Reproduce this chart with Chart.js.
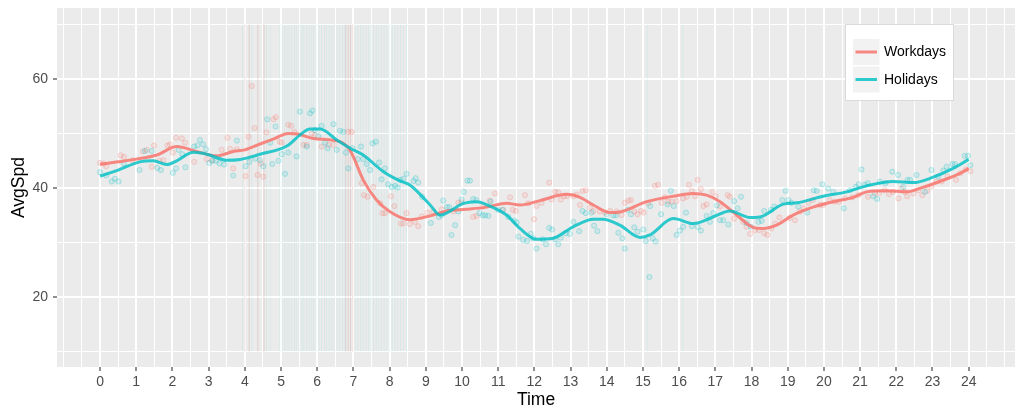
<!DOCTYPE html>
<html>
<head>
<meta charset="utf-8">
<title>AvgSpd by Time</title>
<script src="https://cdn.jsdelivr.net/npm/chart.js@4.4.1/dist/chart.umd.min.js"></script>
<style>
  html, body { margin: 0; padding: 0; background: #ffffff; }
  #wrap { width: 1024px; height: 419px; }
</style>
</head>
<body>
<div id="wrap"><canvas id="chart" width="1024" height="419"></canvas></div>
<script>
// ---- data ----
const seriesNames = ['Workdays', 'Holidays'];
const xTickLabels = [0, 1, 2, 3, 4, 5, 6, 7, 8, 9, 10, 11, 12, 13, 14, 15, 16, 17, 18, 19, 20, 21, 22, 23, 24];
const xGridValues = [-1, -0.5, 0, 0.5, 1, 1.5, 2, 2.5, 3, 3.5, 4, 4.5, 5, 5.5, 6, 6.5, 7, 7.5, 8, 8.5, 9, 9.5, 10, 10.5, 11, 11.5,
  12, 12.5, 13, 13.5, 14, 14.5, 15, 15.5, 16, 16.5, 17, 17.5, 18, 18.5, 19, 19.5, 20, 20.5, 21, 21.5, 22, 22.5, 23, 23.5, 24, 24.5, 25];
const yTickLabels = [20, 40, 60];
const yGridValues = [10, 20, 30, 40, 50, 60, 70];

// smoothed lines [time, AvgSpd]
const workdaysLine = [[0, 44.35], [0.5, 44.8], [1.0, 45.3], [1.57, 46.05], [2.12, 47.6], [2.67, 46.7], [3.22, 45.9], [3.68, 46.7],
  [4.0, 47.0], [4.42, 48.07], [4.8, 49.0], [5.2, 50.0], [5.45, 49.9], [5.89, 49.1], [6.63, 48.5], [6.9, 47.0], [7.0, 45.7],
  [7.27, 41.5], [7.64, 37.8], [8.0, 35.7], [8.56, 34.2], [9.12, 34.9], [9.58, 35.8], [10.13, 36.1], [10.68, 36.5], [11.23, 37.2],
  [11.6, 36.9], [12.15, 37.7], [12.89, 38.85], [13.26, 38.3], [13.63, 36.9], [14.09, 35.5], [14.36, 35.6], [15.1, 37.5],
  [15.84, 38.5], [16.39, 39.0], [16.76, 38.7], [17.13, 37.5], [17.59, 35.05], [18.05, 32.8], [18.32, 32.6], [18.69, 33.2],
  [19.15, 35.05], [19.7, 36.5], [20.26, 37.5], [20.81, 38.3], [21.18, 39.3], [21.73, 39.5], [22.28, 39.3], [22.65, 39.95],
  [23.2, 41.2], [23.76, 42.7], [24.0, 43.6]];
const holidaysLine = [[0, 42.2], [0.5, 43.3], [1.1, 44.8], [1.47, 45.0], [1.84, 44.3], [2.12, 45.0], [2.58, 46.55], [2.95, 46.2],
  [3.5, 45.1], [3.87, 45.25], [4.42, 46.2], [5.16, 47.7], [5.52, 49.7], [5.8, 50.8], [6.08, 50.8], [6.54, 48.8], [6.91, 47.3],
  [7.27, 46.05], [7.83, 43.0], [8.29, 41.3], [8.56, 40.55], [9.12, 36.9], [9.39, 35.05], [10.04, 37.2], [10.4, 37.5], [10.77, 36.7],
  [11.23, 35.05], [11.6, 32.6], [12.06, 30.6], [12.52, 30.8], [13.07, 32.9], [13.63, 34.3], [13.9, 34.3], [14.36, 33.2],
  [14.92, 30.95], [15.19, 31.4], [15.84, 34.4], [16.39, 33.5], [16.94, 34.7], [17.4, 35.8], [17.96, 34.6], [18.23, 34.7],
  [18.88, 37.05], [19.25, 37.3], [19.98, 38.5], [20.63, 39.3], [21.18, 40.4], [21.91, 41.2], [22.47, 41.0], [23.02, 42.0],
  [23.57, 43.6], [24.0, 45.25]];

// raw observations [time, AvgSpd]
const workdaysPts = [[0.0, 44.6], [0.1, 44.5], [0.17, 44.0], [0.57, 46.0], [0.66, 45.7], [0.9, 45.1], [1.18, 46.7], [1.29, 47.0],
  [1.43, 43.9], [1.49, 47.8], [1.64, 45.0], [1.75, 45.1], [1.86, 47.8], [1.93, 48.0], [2.01, 46.5], [2.1, 49.2], [2.26, 49.1],
  [2.35, 48.3], [2.6, 44.8], [2.95, 45.3], [3.08, 45.1], [3.36, 47.0], [3.52, 49.2], [3.59, 47.2], [3.68, 43.6], [3.78, 47.1],
  [4.02, 42.2], [4.1, 49.4], [4.19, 58.7], [4.27, 51.0], [4.35, 42.4], [4.44, 44.5], [4.51, 42.1], [4.6, 50.2], [4.79, 52.6],
  [4.86, 53.0], [4.97, 48.5], [5.02, 48.3], [5.2, 51.6], [5.28, 51.4], [5.37, 50.3], [5.62, 47.9], [5.71, 47.9], [5.85, 50.0],
  [5.94, 49.7], [6.12, 47.6], [6.31, 47.9], [6.45, 47.9], [6.86, 50.3], [6.95, 50.3], [7.23, 40.9], [7.29, 38.7], [7.39, 38.4],
  [7.55, 40.2], [7.74, 37.2], [7.8, 35.4], [7.87, 35.4], [8.04, 38.5], [8.13, 36.7], [8.31, 33.5], [8.38, 33.5], [8.47, 35.4],
  [8.56, 33.4], [8.7, 33.8], [8.79, 33.0], [8.89, 34.8], [9.05, 35.5], [9.21, 35.7], [9.44, 36.1], [9.76, 35.7], [9.9, 37.3],
  [9.99, 37.4], [10.31, 34.7], [10.4, 34.9], [10.57, 36.6], [10.77, 37.7], [10.91, 39.0], [11.14, 36.0], [11.33, 38.3],
  [11.4, 36.0], [11.49, 35.8], [11.74, 38.7], [11.83, 37.2], [11.99, 34.3], [12.06, 36.7], [12.2, 37.3], [12.41, 41.0],
  [12.48, 37.9], [12.57, 39.3], [12.66, 39.2], [12.73, 37.9], [12.82, 38.5], [12.9, 38.5], [13.08, 38.5], [13.17, 38.8],
  [13.26, 36.9], [13.33, 39.5], [13.42, 39.6], [13.54, 36.4], [13.63, 35.8], [13.81, 35.7], [13.95, 35.5], [14.09, 35.8],
  [14.27, 35.7], [14.41, 35.05], [14.5, 37.3], [14.6, 37.7], [14.67, 37.8], [14.76, 35.7], [14.85, 35.2], [14.95, 35.8],
  [15.02, 35.5], [15.15, 37.2], [15.33, 40.4], [15.42, 40.6], [15.52, 37.3], [15.61, 38.3], [15.7, 37.5], [15.79, 37.5],
  [15.93, 37.6], [16.11, 38.1], [16.21, 38.4], [16.27, 40.6], [16.35, 39.5], [16.44, 38.5], [16.51, 41.5], [16.6, 39.8],
  [16.67, 36.7], [16.76, 37.0], [16.92, 39.3], [17.01, 38.5], [17.13, 36.6], [17.34, 38.7], [17.4, 38.4], [17.52, 34.4],
  [17.77, 33.8], [17.86, 32.9], [17.96, 31.6], [18.09, 32.3], [18.21, 32.3], [18.35, 31.7], [18.44, 31.4], [18.55, 32.6],
  [18.65, 33.5], [18.77, 34.6], [19.05, 34.5], [19.2, 34.1], [19.34, 35.7], [19.45, 36.3], [19.57, 37.3], [19.69, 37.8],
  [19.89, 36.9], [19.98, 36.9], [20.16, 37.8], [20.3, 37.5], [20.42, 37.5], [20.58, 38.1], [20.79, 38.3], [20.95, 38.7],
  [21.22, 38.4], [21.41, 39.0], [21.53, 39.1], [21.68, 39.6], [21.8, 38.9], [21.91, 39.3], [22.06, 38.1], [22.14, 39.9],
  [22.24, 39.3], [22.3, 38.5], [22.47, 39.0], [22.61, 39.6], [22.72, 38.7], [22.85, 39.5], [22.97, 40.3], [23.11, 41.2],
  [23.25, 41.2], [23.41, 42.1], [23.65, 41.5], [23.77, 42.7], [23.92, 43.4], [24.05, 43.1]];
const holidaysPts = [[0.0, 42.9], [0.17, 42.3], [0.32, 41.2], [0.41, 41.7], [0.51, 41.2], [0.66, 44.5], [1.09, 43.3], [1.24, 46.8],
  [1.43, 46.8], [1.58, 43.7], [1.68, 43.3], [2.01, 42.8], [2.1, 43.6], [2.17, 47.0], [2.27, 46.2], [2.36, 43.8], [2.6, 47.6],
  [2.69, 47.8], [2.76, 48.8], [2.85, 48.0], [2.93, 47.1], [3.02, 44.6], [3.11, 45.0], [3.2, 45.0], [3.3, 44.5], [3.43, 44.3],
  [3.68, 42.3], [3.78, 48.7], [4.02, 44.0], [4.13, 44.8], [4.29, 45.4], [4.42, 45.1], [4.51, 44.0], [4.62, 52.6], [4.7, 48.3],
  [4.76, 44.4], [4.85, 51.3], [4.93, 45.0], [5.02, 46.2], [5.11, 42.6], [5.2, 46.5], [5.43, 45.8], [5.52, 54.0], [5.71, 47.6],
  [5.8, 53.7], [5.87, 54.2], [5.94, 50.6], [6.03, 49.5], [6.12, 51.4], [6.22, 48.3], [6.29, 47.3], [6.45, 51.7], [6.54, 47.0],
  [6.63, 50.5], [6.72, 50.3], [6.79, 46.5], [6.86, 43.6], [6.97, 47.3], [7.12, 45.3], [7.21, 47.6], [7.27, 45.3], [7.37, 44.4],
  [7.46, 43.3], [7.53, 48.2], [7.62, 48.5], [7.71, 44.7], [7.78, 41.6], [7.87, 43.6], [7.96, 40.7], [8.06, 40.2], [8.15, 40.4],
  [8.22, 40.1], [8.29, 41.5], [8.38, 41.7], [8.47, 42.6], [8.66, 41.3], [8.72, 41.8], [8.79, 41.0], [8.9, 38.4], [9.14, 33.6],
  [9.36, 34.7], [9.44, 35.05], [9.48, 37.7], [9.58, 36.5], [9.65, 36.5], [9.71, 31.4], [9.81, 33.2], [9.9, 35.7], [9.99, 37.9],
  [10.05, 39.3], [10.15, 41.35], [10.22, 41.35], [10.31, 38.0], [10.39, 37.8], [10.48, 35.4], [10.57, 35.0], [10.64, 35.0],
  [10.73, 34.9], [10.79, 37.5], [11.0, 36.0], [11.12, 36.0], [11.28, 34.7], [11.44, 34.0], [11.51, 33.7], [11.56, 31.1],
  [11.69, 30.5], [11.8, 30.3], [11.9, 31.6], [11.97, 30.8], [12.06, 28.9], [12.23, 30.6], [12.32, 29.7], [12.41, 32.7],
  [12.49, 32.4], [12.57, 30.6], [12.66, 29.7], [12.73, 30.9], [12.87, 31.7], [12.98, 31.6], [13.08, 33.8], [13.24, 32.1],
  [13.33, 35.8], [13.42, 35.4], [13.58, 35.5], [13.65, 33.1], [13.74, 32.1], [14.0, 35.2], [14.18, 35.0], [14.25, 35.0],
  [14.32, 31.8], [14.43, 30.8], [14.5, 28.9], [14.58, 36.0], [14.67, 35.2], [14.76, 32.8], [14.85, 32.0], [15.01, 32.4],
  [15.08, 30.3], [15.18, 23.7], [15.2, 36.7], [15.27, 30.8], [15.35, 30.2], [15.5, 35.2], [15.68, 37.0], [15.77, 39.5],
  [15.85, 36.7], [15.93, 31.4], [16.02, 32.2], [16.11, 32.9], [16.19, 35.5], [16.35, 33.0], [16.51, 32.9], [16.6, 32.2],
  [16.76, 34.9], [16.85, 33.8], [16.94, 35.4], [17.04, 36.8], [17.13, 34.1], [17.22, 34.1], [17.36, 33.3], [17.52, 37.6],
  [17.62, 36.3], [17.71, 38.4], [17.86, 33.6], [17.98, 32.9], [18.19, 33.8], [18.28, 34.0], [18.35, 35.8], [18.54, 36.0],
  [18.63, 36.6], [18.85, 37.8], [18.94, 39.5], [19.02, 37.8], [19.1, 37.3], [19.29, 36.6], [19.54, 35.5], [19.72, 39.6],
  [19.8, 39.5], [19.96, 40.7], [20.12, 39.9], [20.26, 39.3], [20.55, 36.3], [20.72, 39.6], [20.88, 40.2], [20.96, 40.7],
  [21.04, 43.4], [21.13, 40.6], [21.21, 40.9], [21.36, 38.5], [21.47, 38.0], [21.55, 41.2], [21.7, 40.9], [21.89, 43.0],
  [22.05, 42.4], [22.19, 40.2], [22.31, 41.5], [22.38, 41.5], [22.56, 42.4], [22.79, 39.3], [22.97, 43.3], [23.16, 42.1],
  [23.3, 43.2], [23.39, 43.9], [23.55, 44.4], [23.62, 44.4], [23.89, 45.9], [23.98, 45.9], [24.05, 44.2]];

// vertical markers (time of day), drawn from 10 to 70
const workdaysMarks = [4.0, 4.12, 4.36, 4.53, 6.79, 6.86, 6.92, 6.98];
const holidaysMarks = [3.94, 4.19, 4.6, 4.7, 4.97, 5.03, 5.1, 5.16, 5.22, 5.3, 5.37, 5.42, 5.5, 5.58, 5.63, 5.7, 5.78, 5.85,
  5.9, 5.97, 6.05, 6.12, 6.2, 6.26, 6.33, 6.4, 6.47, 6.55, 6.62, 6.7, 6.76, 7.05, 7.12, 7.2, 7.27, 7.35, 7.42, 7.5, 7.56,
  7.63, 7.7, 7.78, 7.85, 7.92, 8.0, 8.07, 8.15, 8.22, 8.3, 8.38, 8.47, 15.12, 16.1];
const markRange = [10, 70];

// ---- helpers ----
const RED = '#F8766D';
const CYAN = '#00BFC4';
const FONT = '"Liberation Sans", Arial, sans-serif';

function toXY(arr) {
  return arr.map(p => ({ x: p[0], y: p[1] }));
}

function markSegments(times) {
  const out = [];
  times.forEach(t => {
    out.push({ x: t, y: markRange[0] });
    out.push({ x: t, y: markRange[1] });
    out.push({ x: t, y: null });
  });
  return out;
}

// grey panel like ggplot
const panelBg = {
  id: 'panelBg',
  beforeDraw(chart) {
    const a = chart.chartArea;
    const ctx = chart.ctx;
    ctx.save();
    ctx.fillStyle = '#EBEBEB';
    ctx.fillRect(a.left, a.top, a.right - a.left, a.bottom - a.top);
    ctx.restore();
  }
};

// legend box inside the panel, top right
const ggLegend = {
  id: 'ggLegend',
  afterDraw(chart) {
    const ctx = chart.ctx;
    const a = chart.chartArea;
    const bx = a.right - 170, by = a.top + 16, bw = 109, bh = 77;
    const colors = ['rgba(248,118,109,0.85)', 'rgba(0,191,196,0.82)'];
    ctx.save();
    ctx.fillStyle = '#FFFFFF';
    ctx.fillRect(bx, by, bw, bh);
    ctx.strokeStyle = '#DADADA';
    ctx.lineWidth = 1;
    ctx.strokeRect(bx + 0.5, by + 0.5, bw - 1, bh - 1);
    seriesNames.forEach((name, i) => {
      const kx = bx + 8, ky = by + 15 + i * 27.5;
      ctx.fillStyle = '#F2F2F2';
      ctx.fillRect(kx, ky, 26.5, 26);
      ctx.strokeStyle = colors[i];
      ctx.lineWidth = 3;
      ctx.beginPath();
      ctx.moveTo(kx + 2.5, ky + 13);
      ctx.lineTo(kx + 24, ky + 13);
      ctx.stroke();
      ctx.fillStyle = '#000000';
      ctx.font = '14px ' + FONT;
      ctx.textBaseline = 'middle';
      ctx.textAlign = 'left';
      ctx.fillText(name, kx + 31, ky + 13.5);
    });
    ctx.restore();
  }
};

Chart.defaults.font.family = FONT;

const ctx = document.getElementById('chart');
new Chart(ctx, {
  type: 'scatter',
  data: {
    datasets: [
      {
        label: seriesNames[1] + ' smooth',
        data: toXY(holidaysLine),
        showLine: true,
        borderColor: 'rgba(0,191,196,0.82)',
        borderWidth: 3,
        pointRadius: 0,
        cubicInterpolationMode: 'monotone',
        order: 0
      },
      {
        label: seriesNames[0] + ' smooth',
        data: toXY(workdaysLine),
        showLine: true,
        borderColor: 'rgba(248,118,109,0.85)',
        borderWidth: 3,
        pointRadius: 0,
        cubicInterpolationMode: 'monotone',
        order: 1
      },
      {
        label: seriesNames[1],
        data: toXY(holidaysPts),
        pointRadius: 2.6,
        pointBackgroundColor: 'rgba(0,191,196,0.12)',
        pointBorderColor: 'rgba(0,191,196,0.26)',
        pointBorderWidth: 1,
        order: 2
      },
      {
        label: seriesNames[0],
        data: toXY(workdaysPts),
        pointRadius: 2.6,
        pointBackgroundColor: 'rgba(248,118,109,0.12)',
        pointBorderColor: 'rgba(248,118,109,0.26)',
        pointBorderWidth: 1,
        order: 3
      },
      {
        label: 'workday marks',
        data: markSegments(workdaysMarks),
        showLine: true,
        spanGaps: false,
        borderColor: 'rgba(190,130,120,0.25)',
        borderWidth: 1,
        pointRadius: 0,
        order: 4
      },
      {
        label: 'holiday marks',
        data: markSegments(holidaysMarks),
        showLine: true,
        spanGaps: false,
        borderColor: 'rgba(0,191,196,0.08)',
        borderWidth: 1,
        pointRadius: 0,
        order: 5
      }
    ]
  },
  options: {
    responsive: false,
    animation: false,
    devicePixelRatio: 1,
    layout: { padding: { top: 8, right: 9, left: 0, bottom: 0 } },
    plugins: {
      legend: { display: false },
      tooltip: { enabled: false }
    },
    scales: {
      x: {
        type: 'linear',
        min: -1.19,
        max: 25.28,
        bounds: 'data',
        afterBuildTicks: s => { s.ticks = xGridValues.map(v => ({ value: v })); },
        afterFit: s => { s.height = 52; s.paddingLeft = 0; s.paddingRight = 0; },
        border: { display: false },
        grid: {
          color: '#FFFFFF',
          lineWidth: c => xTickLabels.includes(c.tick.value) ? 2 : 1,
          drawTicks: true,
          tickLength: 4,
          tickWidth: 1.1,
          tickColor: c => xTickLabels.includes(c.tick.value) ? '#333333' : 'rgba(0,0,0,0)'
        },
        ticks: {
          autoSkip: false,
          maxRotation: 0,
          padding: 3,
          color: '#4D4D4D',
          font: { size: 14 },
          callback: v => xTickLabels.includes(v) ? String(v) : ''
        },
        title: {
          display: true,
          text: 'Time',
          color: '#000000',
          font: { size: 17.5 },
          padding: { top: 0, bottom: 8 }
        }
      },
      y: {
        type: 'linear',
        min: 7.2,
        max: 73,
        bounds: 'data',
        afterBuildTicks: s => { s.ticks = yGridValues.map(v => ({ value: v })); },
        afterFit: s => { s.width = 57; s.paddingTop = 0; s.paddingBottom = 0; },
        border: { display: false },
        grid: {
          color: '#FFFFFF',
          lineWidth: c => yTickLabels.includes(c.tick.value) ? 2 : 1,
          drawTicks: true,
          tickLength: 4,
          tickWidth: 1.1,
          tickColor: c => yTickLabels.includes(c.tick.value) ? '#333333' : 'rgba(0,0,0,0)'
        },
        ticks: {
          padding: 5,
          color: '#4D4D4D',
          font: { size: 14 },
          callback: v => yTickLabels.includes(v) ? String(v) : ''
        },
        title: {
          display: true,
          text: 'AvgSpd',
          color: '#000000',
          font: { size: 17.5 },
          padding: { top: 9, bottom: 0 }
        }
      }
    }
  },
  plugins: [panelBg, ggLegend]
});
</script>
</body>
</html>
